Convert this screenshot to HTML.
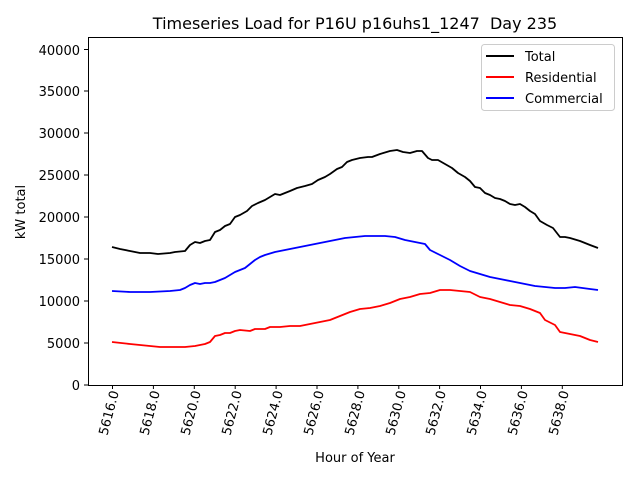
<!DOCTYPE html><html><head><style>body{margin:0;background:#fff}</style></head><body>
<svg width="640" height="480" xmlns="http://www.w3.org/2000/svg" font-family="DejaVu Sans, Liberation Sans, sans-serif">
<rect width="640" height="480" fill="#fff"/>
<text x="355" y="29" font-size="16" text-anchor="middle" style="white-space:pre">Timeseries Load for P16U p16uhs1_1247  Day 235</text>
<g font-size="13" text-anchor="end">
<text x="80" y="390">0</text><text x="80" y="348">5000</text><text x="80" y="306">10000</text><text x="80" y="264">15000</text><text x="80" y="222">20000</text><text x="80" y="180">25000</text><text x="80" y="138">30000</text><text x="80" y="96">35000</text><text x="80" y="55">40000</text>
</g>
<g stroke="#000" stroke-width="1">
<line x1="84" x2="88" y1="385" y2="385"/><line x1="84" x2="88" y1="343" y2="343"/><line x1="84" x2="88" y1="301" y2="301"/><line x1="84" x2="88" y1="259" y2="259"/><line x1="84" x2="88" y1="217" y2="217"/><line x1="84" x2="88" y1="175" y2="175"/><line x1="84" x2="88" y1="133" y2="133"/><line x1="84" x2="88" y1="91" y2="91"/><line x1="84" x2="88" y1="49.5" y2="49.5"/>
<line x1="112.5" x2="112.5" y1="385" y2="389"/><line x1="153.4" x2="153.4" y1="385" y2="389"/><line x1="194.3" x2="194.3" y1="385" y2="389"/><line x1="235.2" x2="235.2" y1="385" y2="389"/><line x1="276.1" x2="276.1" y1="385" y2="389"/><line x1="317" x2="317" y1="385" y2="389"/><line x1="357.9" x2="357.9" y1="385" y2="389"/><line x1="398.8" x2="398.8" y1="385" y2="389"/><line x1="439.6" x2="439.6" y1="385" y2="389"/><line x1="480.5" x2="480.5" y1="385" y2="389"/><line x1="521.4" x2="521.4" y1="385" y2="389"/><line x1="562.3" x2="562.3" y1="385" y2="389"/>
</g>
<g font-size="13" text-anchor="end">
<text transform="translate(119,392) rotate(-75)">5616.0</text><text transform="translate(160,392) rotate(-75)">5618.0</text><text transform="translate(201,392) rotate(-75)">5620.0</text><text transform="translate(242,392) rotate(-75)">5622.0</text><text transform="translate(283,392) rotate(-75)">5624.0</text><text transform="translate(324,392) rotate(-75)">5626.0</text><text transform="translate(365,392) rotate(-75)">5628.0</text><text transform="translate(406,392) rotate(-75)">5630.0</text><text transform="translate(446,392) rotate(-75)">5632.0</text><text transform="translate(487,392) rotate(-75)">5634.0</text><text transform="translate(528,392) rotate(-75)">5636.0</text><text transform="translate(569,392) rotate(-75)">5638.0</text>
</g>
<text x="355" y="462" font-size="13" text-anchor="middle">Hour of Year</text>
<text transform="translate(25,212) rotate(-90)" font-size="13" text-anchor="middle">kW total</text>
<g fill="none" stroke-width="1.8" stroke-linejoin="round">
<polyline stroke="#000" points="112,247 120,249 130,251 140,253 150,253 158,254 170,253 175,252 185,251 190,245 195,242 200,243 205,241 210,240 215,232 220,230 225,226 230,224 235,217 240,215 247,211 252,206 258,203 265,200 270,197 275,194 280,195 290,191 297,188 305,186 312,184 318,180 325,177 330,174 337,169 342,167 347,162 352,160 360,158 368,157 372,157 380,154 390,151 397,150 403,152 410,153 417,151 422,151 428,158 432,160 438,160 445,164 452,168 458,173 465,177 470,181 475,187 480,188 485,193 490,195 495,198 500,199 505,201 510,204 515,205 520,204 525,207 530,211 535,214 540,221 547,225 553,228 560,237 565,237 570,238 580,241 590,245 598,248"/>
<polyline stroke="#00f" points="112,291 130,292 150,292 170,291 180,290 185,288 190,285 195,283 200,284 205,283 210,283 215,282 220,280 225,278 230,275 235,272 240,270 245,268 250,264 255,260 260,257 265,255 275,252 285,250 295,248 305,246 315,244 325,242 335,240 345,238 355,237 365,236 375,236 385,236 395,237 405,240 415,242 425,244 430,250 440,255 450,260 460,266 470,271 480,274 490,277 500,279 510,281 520,283 535,286 545,287 555,288 565,288 575,287 590,289 598,290"/>
<polyline stroke="#f00" points="112,342 130,344 150,346 160,347 175,347 185,347 195,346 205,344 210,342 215,336 220,335 225,333 230,333 235,331 240,330 250,331 255,329 265,329 270,327 280,327 290,326 300,326 310,324 320,322 330,320 340,316 350,312 360,309 370,308 380,306 390,303 400,299 410,297 420,294 430,293 440,290 450,290 460,291 470,292 480,297 490,299 500,302 510,305 520,306 530,309 540,313 545,320 555,325 560,332 570,334 580,336 590,340 598,342"/>
</g>
<rect x="88.5" y="37.5" width="534" height="348" fill="none" stroke="#000" stroke-width="1"/>
<rect x="481.5" y="44.5" width="133" height="66" rx="3" fill="#fff" fill-opacity="0.8" stroke="#ccc"/>
<g stroke-width="2"><line x1="486" x2="514" y1="56" y2="56" stroke="#000"/><line x1="486" x2="514" y1="77" y2="77" stroke="#f00"/><line x1="486" x2="514" y1="98" y2="98" stroke="#00f"/></g>
<g font-size="13"><text x="525" y="61">Total</text><text x="525" y="82">Residential</text><text x="525" y="103">Commercial</text></g>
</svg></body></html>
